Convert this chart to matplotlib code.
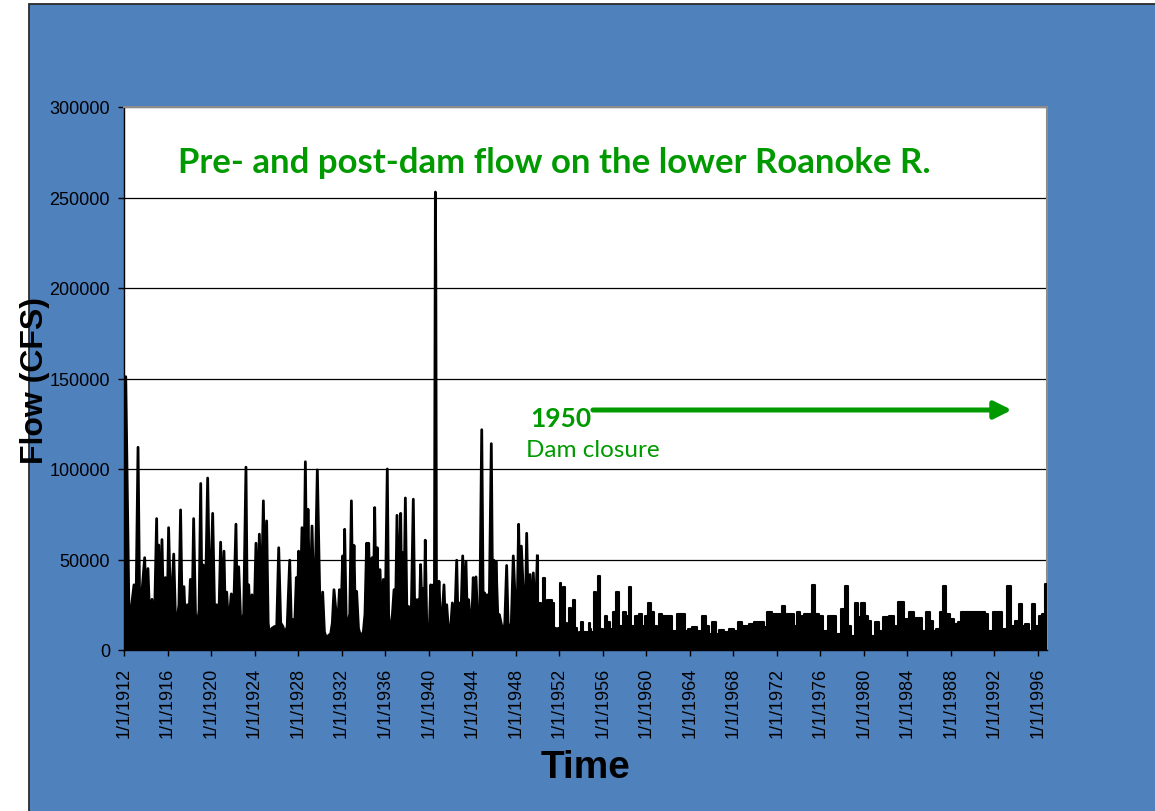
import numpy as np
import matplotlib
matplotlib.use('Agg')
import matplotlib.pyplot as plt
from matplotlib.patches import Rectangle

# daily flow record, (decimal year, cfs) -- peaks and the low fill between them
pre_dam_years = [
    1912.00, 1912.16, 1912.32, 1912.48, 1912.65, 1912.92, 1913.08, 1913.29, 1913.45, 1913.60, 1913.90, 1914.05,
    1914.20, 1914.38, 1914.57, 1914.78, 1915.00, 1915.10, 1915.19, 1915.33, 1915.49, 1915.65, 1915.80, 1915.95,
    1916.10, 1916.30, 1916.57, 1916.72, 1916.87, 1917.05, 1917.20, 1917.35, 1917.51, 1917.66, 1917.82, 1917.95,
    1918.10, 1918.25, 1918.40, 1918.57, 1918.74, 1918.90, 1919.05, 1919.18, 1919.29, 1919.45, 1919.69, 1919.90,
    1920.15, 1920.35, 1920.52, 1920.70, 1920.88, 1921.03, 1921.19, 1921.32, 1921.44, 1921.62, 1921.86, 1922.05,
    1922.29, 1922.42, 1922.54, 1922.75, 1923.00, 1923.21, 1923.34, 1923.46, 1923.62, 1923.76, 1923.95,
    1924.13, 1924.28, 1924.44, 1924.62, 1924.81, 1924.96, 1925.11, 1925.25, 1925.36, 1925.60, 1925.85, 1926.02,
    1926.22, 1926.40, 1926.60, 1926.80, 1927.00, 1927.23, 1927.38, 1927.53, 1927.68, 1927.84, 1927.94,
    1928.05, 1928.20, 1928.36, 1928.52, 1928.67, 1928.80, 1928.91, 1929.08, 1929.28, 1929.50, 1929.77, 1930.01,
    1930.14, 1930.26, 1930.42, 1930.60, 1930.80, 1931.00, 1931.15, 1931.30, 1931.50, 1931.65, 1931.80, 1931.95,
    1932.10, 1932.19, 1932.28, 1932.42, 1932.59, 1932.75, 1932.90, 1933.02, 1933.14, 1933.26, 1933.38, 1933.55,
    1933.75, 1934.00, 1934.15, 1934.30, 1934.40, 1934.49, 1934.65, 1934.80, 1934.92, 1935.04, 1935.16, 1935.28,
    1935.40, 1935.53, 1935.68, 1935.84, 1936.00,
    1936.20, 1936.32, 1936.45, 1936.62, 1936.82, 1936.96, 1937.09, 1937.25, 1937.43, 1937.52, 1937.61, 1937.73,
    1937.86, 1938.00, 1938.16, 1938.38, 1938.59, 1938.72, 1938.84, 1938.93, 1939.02, 1939.14, 1939.26, 1939.40,
    1939.51, 1939.60, 1939.69, 1939.82, 1939.94, 1940.08, 1940.19, 1940.31, 1940.43, 1940.53,
    1940.62, 1940.66, 1940.72, 1940.82, 1940.95, 1941.10, 1941.25, 1941.41, 1941.53, 1941.66, 1941.87, 1942.02,
    1942.18, 1942.38, 1942.58, 1942.70, 1942.79, 1942.95, 1943.13, 1943.28, 1943.43, 1943.56, 1943.68, 1943.92,
    1944.10, 1944.22, 1944.35, 1944.54,
    1944.70, 1944.88, 1945.02, 1945.15, 1945.27, 1945.39, 1945.55, 1945.76, 1945.88, 1946.00, 1946.10, 1946.19,
    1946.35, 1946.50, 1946.86, 1947.00, 1947.17, 1947.30, 1947.42, 1947.60, 1947.78, 1947.97, 1948.12, 1948.27,
    1948.40, 1948.52, 1948.76, 1948.88, 1949.01, 1949.16, 1949.32, 1949.47, 1949.62, 1949.80, 1949.99,
]
pre_dam_flow = [
    40000, 151000, 79000, 10000, 22000, 36000, 12000, 112000, 18000, 28000, 51000, 20000,
    45000, 14000, 28000, 10000, 72600, 22000, 58000, 20000, 61000, 14000, 40000, 12000,
    67600, 18000, 53000, 20000, 15000, 25000, 77400, 18000, 35000, 12000, 25000, 14000,
    39000, 15000, 72600, 20000, 13000, 22000, 92000, 18000, 47000, 16000, 95000, 20000,
    75500, 14000, 25000, 12000, 59600, 20000, 54600, 15000, 32000, 12000, 31000, 15000,
    69500, 18000, 46000, 12000, 20000, 101000, 15000, 36000, 12000, 30500, 14000,
    59000, 20000, 64000, 25000, 82400, 25000, 71300, 15000, 9000, 12000, 13000, 9000,
    56500, 15000, 13000, 9000, 13000, 49600, 14000, 16700, 12000, 40000, 20000,
    54600, 25000, 67600, 28000, 104000, 30000, 77800, 18000, 68500, 15000, 99500, 24000,
    12000, 32000, 10000, 6500, 8000, 9000, 15000, 33300, 20000, 14000, 33300, 20000,
    52000, 22000, 66700, 18000, 15000, 20000, 82400, 25000, 57800, 18000, 32400, 12000,
    7400, 10000, 20000, 59000, 22000, 59000, 18000, 51000, 25000, 78700, 28000, 56500,
    20000, 44400, 18000, 39000, 15000,
    100000, 20000, 11000, 15000, 33300, 20000, 74400, 25000, 75500, 30000, 53700, 25000,
    84000, 20000, 24000, 12000, 83300, 20000, 27800, 15000, 27800, 15000, 47200, 20000,
    34000, 15000, 60700, 15000, 11000, 15000, 36000, 20000, 36000, 30000,
    253000, 208000, 30000, 20000, 38000, 15000, 18000, 36000, 15000, 25000, 6500, 12000,
    26000, 12000, 49600, 15000, 26000, 15000, 52000, 20000, 49000, 15000, 27800, 7400,
    40000, 20000, 40400, 11000,
    20000, 121700, 20000, 31500, 15000, 30500, 15000, 114000, 25000, 49600, 20000, 49000,
    20000, 19500, 9000, 15000, 46700, 15000, 9000, 15000, 52000, 25000, 15000, 69500,
    25000, 57400, 24000, 15000, 64500, 20000, 41700, 15000, 42600, 15000, 52000,
]

post_dam_years = [
    1950.12, 1950.24, 1950.40, 1950.60, 1950.78, 1950.97, 1951.10, 1951.22, 1951.46, 1951.65, 1951.83, 1952.00,
    1952.14, 1952.26, 1952.38, 1952.63, 1952.80, 1952.99, 1953.18, 1953.36, 1953.55, 1953.73, 1953.95, 1954.13,
    1954.33, 1954.53, 1954.65, 1954.77,
    1954.83, 1955.05, 1955.29, 1955.50, 1955.69, 1955.90, 1956.10, 1956.30, 1956.50, 1956.83, 1957.13, 1957.40,
    1957.65, 1958.02, 1958.26, 1958.50, 1958.76, 1959.12, 1959.49, 1959.73, 1960.04, 1960.28, 1960.53, 1960.83,
    1961.10, 1961.26, 1961.72, 1962.18, 1962.64, 1963.04, 1963.40, 1963.72, 1964.02, 1964.48, 1964.94, 1965.34,
    1965.61, 1965.86, 1966.26, 1966.48, 1966.94, 1967.40, 1967.85, 1968.25, 1968.62, 1968.92,
    1969.17, 1969.63, 1970.09, 1970.64, 1971.00, 1971.16, 1971.93, 1972.39, 1972.63, 1972.90, 1973.46, 1973.76,
    1973.98, 1974.32, 1974.68, 1975.14, 1975.42, 1975.66, 1976.06, 1976.52, 1976.83, 1977.28, 1977.68, 1978.05,
    1978.42, 1978.73, 1978.97, 1979.34, 1979.58, 1979.95, 1980.26, 1980.50, 1980.80, 1981.18, 1981.57, 1982.04,
    1982.50, 1982.96,
    1983.40, 1983.55, 1983.90, 1984.40, 1984.86, 1985.20, 1985.50, 1985.90, 1986.20, 1986.50, 1986.85, 1987.15,
    1987.43, 1987.76, 1988.07, 1988.47, 1988.77, 1989.14, 1989.60, 1990.06, 1990.52, 1990.98, 1991.29, 1991.60,
    1992.15, 1992.50, 1992.88, 1993.37, 1993.74, 1994.05, 1994.40, 1994.70, 1995.00, 1995.27, 1995.57, 1995.90,
    1996.25, 1996.56, 1996.83,
]
post_dam_flow = [
    20000, 26000, 15000, 40000, 15000, 27800, 15000, 27800, 26000, 12000, 7400, 12000,
    37000, 20000, 35000, 15000, 12000, 23000, 15000, 27800, 12000, 7400, 10000, 15700,
    10000, 9000, 10000, 15000,
    11600, 10000, 31900, 12000, 40700, 11600, 10000, 19000, 15300, 11600, 20800, 31900,
    13400, 20800, 19000, 34600, 13400, 19000, 19900, 13400, 19000, 25800, 20800, 13400,
    12500, 19900, 19000, 19000, 10700, 19900, 19900, 10700, 11600, 12500, 10700, 18600,
    13400, 8800, 15300, 8800, 11000, 10100, 11600, 10700, 15300, 13400,
    13400, 14400, 15300, 15300, 12500, 20800, 19900, 19900, 24100, 19900, 19900, 13400,
    20800, 19000, 19900, 19900, 35900, 19900, 19000, 10700, 19000, 19000, 8800, 22700,
    35600, 13400, 7900, 26000, 18100, 26000, 19000, 16200, 7900, 15700, 10700, 18100,
    18600, 13400,
    26700, 26700, 17100, 20800, 17500, 17500, 10700, 20800, 16200, 10700, 11600, 20800,
    35600, 19900, 17100, 14400, 15300, 20800, 20800, 20800, 20800, 20800, 19900, 10700,
    20800, 20800, 11600, 35600, 13400, 16200, 25400, 13400, 14400, 10700, 25400, 13400,
    19000, 19900, 36500,
]

tick_years = list(range(1912, 1997, 4))
y_ticks = [0, 50000, 100000, 150000, 200000, 250000, 300000]

dam_year = 1950
arrow_start = (1955.1, 132600)
arrow_end = (1993.6, 132600)

blue = '#4F81BD'
green = '#009A00'
sans = ['Liberation Sans', 'DejaVu Sans']
plt.rcParams['font.family'] = sans

W, H = 1155, 812
fig = plt.figure(figsize=(W / 100, H / 100), dpi=100)
fig.patch.set_facecolor('white')
bg = Rectangle((29 / W, -0.01), 1.0, 1.01 - 5 / H, transform=fig.transFigure,
               facecolor=blue, edgecolor='#2b2b2b', lw=1.3, zorder=-10)
fig.patches.append(bg)

ax = fig.add_axes([124 / W, 1 - 651 / H, 923 / W, 543 / H])
ax.set_facecolor('white')

ax.fill_between(pre_dam_years, pre_dam_flow, 0, color='black', lw=0, zorder=3)
ax.plot(pre_dam_years, pre_dam_flow, color='black', lw=2, zorder=3)
# regulated releases after the dam look blocky
post_x = [pre_dam_years[-1]] + post_dam_years
post_y = [pre_dam_flow[-1]] + post_dam_flow
ax.fill_between(post_x, post_y, 0, step='mid', color='black', lw=0, zorder=3)
ax.plot(post_x, post_y, drawstyle='steps-mid', color='black', lw=1.5, zorder=3)

ax.set_xlim(1912, 1912 + 923 / 10.88)
ax.set_ylim(0, 300000)
ax.set_yticks(y_ticks)
ax.set_yticklabels([str(v) for v in y_ticks])
ax.set_xticks(tick_years)
ax.set_xticklabels(['1/1/%d' % y for y in tick_years], rotation=90)
ax.tick_params(axis='both', labelsize=13, direction='out', length=4, width=1, color='black')
ax.tick_params(axis='y', pad=6)
ax.tick_params(axis='x', pad=8)

ax.yaxis.grid(True, color='black', lw=0.9)
ax.set_axisbelow(True)
for side in ['left', 'bottom']:
    ax.spines[side].set_color('black')
    ax.spines[side].set_linewidth(1)
for side in ['top', 'right']:
    ax.spines[side].set_color('#8c8c8c')
    ax.spines[side].set_linewidth(1.5)

fig.text(35 / W, 1 - 381 / H, 'Flow (CFS)', rotation=90, ha='center', va='center',
         fontsize=23, fontweight='bold')
fig.text(586 / W, 1 - 768 / H, 'Time', ha='center', va='center', fontsize=28, fontweight='bold')

ax.text(0.466, 0.899, 'Pre- and post-dam flow on the lower Roanoke R.', transform=ax.transAxes,
        ha='center', va='center', fontsize=25, fontweight='bold', color=green, family='Lato')
ax.text(dam_year - 0.7, 128200, str(dam_year), ha='left', va='center', fontsize=19,
        fontweight='bold', color=green, family='Lato', zorder=5)
ax.text(dam_year - 1.05, 110500, 'Dam closure', ha='left', va='center', fontsize=17.5,
        color=green, family='Lato', zorder=5)
ax.annotate('', xy=arrow_end, xytext=arrow_start,
            arrowprops=dict(arrowstyle='-|>', color=green, lw=3.6, mutation_scale=26,
                            shrinkA=0, shrinkB=0), zorder=5)

fig.savefig('out.png', dpi=100)
